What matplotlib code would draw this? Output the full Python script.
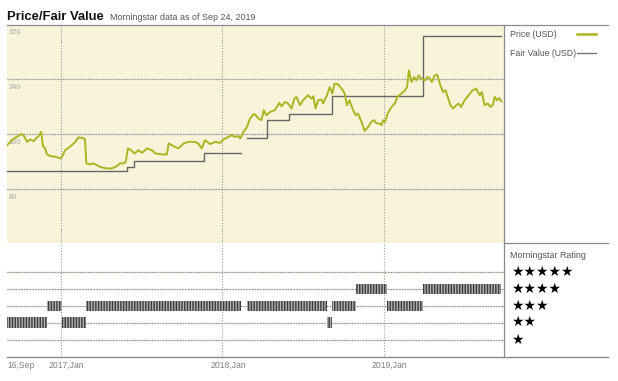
import numpy as np
import matplotlib
matplotlib.use("Agg")
import matplotlib.pyplot as plt
import matplotlib.dates as mdates
import matplotlib.transforms as mtransforms
from matplotlib.lines import Line2D

plt.rcParams['font.family'] = ['Liberation Sans', 'DejaVu Sans']

# price (USD)
price_dates = [
    '2016-09-02', '2016-09-09', '2016-09-17', '2016-09-24', '2016-10-04', '2016-10-09',
    '2016-10-17', '2016-10-24', '2016-11-01', '2016-11-06', '2016-11-12', '2016-11-18',
    '2016-11-22', '2016-11-27', '2016-12-01', '2016-12-09', '2016-12-20', '2016-12-31',
    '2017-01-04', '2017-01-11', '2017-01-22', '2017-02-03', '2017-02-10', '2017-02-19',
    '2017-02-25', '2017-02-28', '2017-03-09', '2017-03-16', '2017-03-27', '2017-04-04',
    '2017-04-15', '2017-04-27', '2017-05-08', '2017-05-15', '2017-05-23', '2017-05-28',
    '2017-06-02', '2017-06-09', '2017-06-17', '2017-06-26', '2017-07-04', '2017-07-15',
    '2017-07-26', '2017-08-03', '2017-08-18', '2017-08-29', '2017-09-02', '2017-09-13',
    '2017-09-24', '2017-10-06', '2017-10-17', '2017-11-01', '2017-11-08', '2017-11-16',
    '2017-11-23', '2017-12-05', '2017-12-16', '2017-12-27', '2018-01-04', '2018-01-15',
    '2018-01-23', '2018-01-30', '2018-02-07', '2018-02-11', '2018-02-18', '2018-02-26',
    '2018-03-05', '2018-03-13', '2018-03-16', '2018-03-24', '2018-03-31', '2018-04-05',
    '2018-04-11', '2018-04-19', '2018-04-30', '2018-05-10', '2018-05-15', '2018-05-23',
    '2018-05-30', '2018-06-07', '2018-06-13', '2018-06-18', '2018-06-26', '2018-07-03',
    '2018-07-14', '2018-07-22', '2018-07-26', '2018-07-31', '2018-08-06', '2018-08-14',
    '2018-08-17', '2018-08-26', '2018-09-01', '2018-09-07', '2018-09-12', '2018-09-20',
    '2018-09-28', '2018-10-05', '2018-10-10', '2018-10-16', '2018-10-24', '2018-10-30',
    '2018-11-04', '2018-11-12', '2018-11-19', '2018-11-27', '2018-12-04', '2018-12-10',
    '2018-12-16', '2018-12-23', '2018-12-27', '2018-12-31', '2019-01-04', '2019-01-10',
    '2019-01-19', '2019-01-26', '2019-02-01', '2019-02-10', '2019-02-18', '2019-02-23',
    '2019-02-27', '2019-03-05', '2019-03-11', '2019-03-16', '2019-03-21', '2019-03-27',
    '2019-04-04', '2019-04-10', '2019-04-15', '2019-04-20', '2019-04-26', '2019-05-02',
    '2019-05-08', '2019-05-15', '2019-05-21', '2019-05-26', '2019-06-01', '2019-06-07',
    '2019-06-14', '2019-06-19', '2019-06-25', '2019-07-03', '2019-07-12', '2019-07-21',
    '2019-07-29', '2019-08-06', '2019-08-11', '2019-08-17', '2019-08-24', '2019-08-31',
    '2019-09-05', '2019-09-09', '2019-09-14', '2019-09-19', '2019-09-24',
]
price_values = [
    144.0, 148.8, 153.7, 156.1, 160.0, 158.5,
    148.8, 152.3, 149.8, 153.7, 157.1, 163.3,
    142.5, 139.2, 130.5, 128.0, 127.0, 124.7,
    127.0, 136.7, 141.5, 148.8, 155.2, 154.6,
    152.7, 117.4, 115.9, 117.4, 113.5, 111.6,
    110.1, 110.1, 113.5, 117.4, 117.4, 119.7,
    139.2, 136.7, 131.9, 136.7, 132.8, 139.2,
    136.7, 131.9, 130.5, 130.5, 146.5, 142.5,
    139.2, 146.5, 148.8, 148.8, 146.5, 139.2,
    151.3, 145.5, 148.8, 147.3, 152.3, 156.1,
    158.5, 156.1, 157.1, 153.7, 163.3, 170.6,
    182.8, 189.1, 189.1, 182.8, 180.4, 194.9,
    187.6, 192.4, 194.9, 205.5, 200.7, 207.0,
    204.7, 197.4, 211.9, 214.3, 202.2, 209.5,
    216.7, 211.9, 215.3, 197.4, 209.5, 210.5,
    204.7, 216.7, 228.8, 219.2, 233.7, 232.7,
    226.5, 219.2, 202.2, 209.5, 194.9, 187.6,
    190.1, 177.9, 164.8, 170.6, 177.9, 180.4,
    175.6, 175.6, 173.1, 180.4, 177.9, 190.1,
    199.7, 204.7, 214.3, 219.2, 224.0, 228.8,
    253.1, 236.1, 243.3, 238.5, 245.8, 241.0,
    238.5, 243.3, 241.9, 236.1, 245.8, 246.8,
    233.7, 221.5, 224.0, 214.3, 202.2, 197.4,
    202.2, 204.7, 199.7, 209.5, 216.7, 224.0,
    226.5, 216.7, 221.5, 202.2, 204.7, 199.7,
    203.2, 214.3, 209.5, 212.8, 208.0,
]

# fair value (USD), step line, NaN = no estimate
fv_dates = ['2016-09-01', '2017-05-31', '2017-06-15', '2017-11-20', '2018-02-11', '2018-02-12',
            '2018-02-27', '2018-04-13', '2018-06-01', '2018-09-06', '2019-03-30', '2019-09-24']
fv_values = [106, 112, 121, 133, 133, np.nan,
             154, 181, 190, 216, 303, 303]

# Morningstar rating periods
rating_start = ['2016-09-01', '2016-12-01', '2017-01-05', '2017-02-28', '2018-02-27', '2018-08-25',
                '2018-09-07', '2018-10-30', '2019-01-09', '2019-03-30']
rating_end = ['2016-12-01', '2017-01-05', '2017-02-28', '2018-02-12', '2018-08-25', '2018-09-07',
              '2018-10-30', '2019-01-09', '2019-03-30', '2019-09-24']
rating_stars = [2, 3, 2, 3, 3, 2, 3, 4, 3, 4]

price_ticks = [0, 80, 160, 240, 320]
year_ticks = ['2017-01-01', '2018-01-01', '2019-01-01']
year_labels = ['2017,Jan', '2018,Jan', '2019,Jan']

W, H = 618, 381
fig = plt.figure(figsize=(W / 100, H / 100), dpi=100)


def fx(px):
    return px / W


def fy(py):
    return 1 - py / H


def hline(y, x0, x1, **kw):
    fig.add_artist(Line2D([fx(x0), fx(x1)], [fy(y), fy(y)], transform=fig.transFigure, **kw))


def vline(x, y0, y1, **kw):
    fig.add_artist(Line2D([fx(x), fx(x)], [fy(y0), fy(y1)], transform=fig.transFigure, **kw))


L, R = 6.7, 504
T1, B1 = 24.5, 242.5
B2 = 356.7
ax = fig.add_axes([fx(L), fy(B1), fx(R - L), (B1 - T1) / H])
ax2 = fig.add_axes([fx(L), fy(B2), fx(R - L), (B2 - B1) / H])

x_lo, x_hi = np.datetime64('2016-09-01'), np.datetime64('2019-09-30')
grid_solid = '#d4d4cc'
grid_dot = '#8a8a8a'

# price panel
ax.set_facecolor('#f8f4da')
ax.set_xlim(x_lo, x_hi)
ax.set_ylim(2, 320)
for v in price_ticks[1:]:
    ax.axhline(v, color=grid_solid, lw=0.9, zorder=1)
    ax.axhline(v, color=grid_dot, lw=0.8, ls=(0, (1, 1.5)), zorder=1)
for d in year_ticks:
    ax.axvline(np.datetime64(d), color='#999999', lw=0.8, ls=(0, (1, 1.5)), zorder=1)
ylab_tr = mtransforms.offset_copy(ax.get_yaxis_transform(), fig=fig, x=0, y=-8.5, units='dots')
for v in price_ticks:
    ax.text(0.003, v, str(v), transform=ylab_tr, fontsize=5.3, color='#aaaaaa',
            va='center', ha='left', zorder=2, clip_on=False)

fv_x = np.array(fv_dates, dtype='datetime64[D]')
ax.plot(fv_x, fv_values, drawstyle='steps-post', color='#666666', lw=1.0, zorder=3)
px = np.array(price_dates, dtype='datetime64[D]')
ax.plot(px, price_values, color='#abb521', lw=1.4, zorder=4, solid_joinstyle='round')
ax.set_xticks([])
ax.set_yticks([])
for s in ax.spines.values():
    s.set_visible(False)

# rating panel
ax2.set_xlim(x_lo, x_hi)
ax2.set_ylim(0, 6.75)
for r in range(1, 6):
    ax2.axhline(r, color=grid_solid, lw=0.9, zorder=1)
    ax2.axhline(r, color=grid_dot, lw=0.8, ls=(0, (1, 1.5)), zorder=1)
for d in year_ticks:
    ax2.axvline(np.datetime64(d), color='#999999', lw=0.8, ls=(0, (1, 1.5)), zorder=1)
plt.rcParams['hatch.linewidth'] = 1.0
for s0, s1, r in zip(rating_start, rating_end, rating_stars):
    a = mdates.date2num(np.datetime64(s0))
    b = mdates.date2num(np.datetime64(s1))
    ax2.broken_barh([(a, b - a)], (r - 0.32, 0.64), facecolors='#b0b0b0',
                    edgecolor='#3c3c3c', hatch='||||||', lw=0, zorder=3)
ax2.set_xticks([])
ax2.set_yticks([])
for s in ax2.spines.values():
    s.set_visible(False)

# frame lines
hline(T1, L, 608, color='#8c8c8c', lw=0.9)
hline(B1, R, 608, color='#8c8c8c', lw=0.9)
hline(B2, L, 608, color='#8c8c8c', lw=1.0)
vline(R, T1, B2, color='#8c8c8c', lw=0.9)

# title
fig.text(fx(7), fy(17.5), 'Price/Fair Value', fontsize=9.4, fontweight='bold', color='#111111',
         va='center', ha='left')
fig.text(fx(110), fy(17.5), 'Morningstar data as of Sep 24, 2019', fontsize=6.4, color='#555555',
         va='center', ha='left')

# legend
fig.text(fx(510), fy(34.5), 'Price (USD)', fontsize=6.3, color='#555555', va='center', ha='left')
fig.text(fx(510), fy(53), 'Fair Value (USD)', fontsize=6.3, color='#555555', va='center', ha='left')
hline(33.5, 577, 596, color='#abb521', lw=1.8)
hline(52.5, 577, 596, color='#777777', lw=1.0)

fig.text(fx(510), fy(256), 'Morningstar Rating', fontsize=6.4, color='#555555', va='center', ha='left')
star_y = [271.5, 288.7, 305.7, 322.3, 339.5]
for k, yy in enumerate(star_y):
    fig.text(fx(511), fy(yy), '\u2605' * (5 - k), fontsize=10, color='black',
             va='center', ha='left', family='DejaVu Sans')

# x labels
fig.text(fx(7), fy(365.5), '16,Sep', fontsize=6.2, color='#808080', va='center', ha='left')
for d, lab in zip(year_ticks, year_labels):
    xd = ax2.transData.transform((mdates.date2num(np.datetime64(d)), 0))[0]
    fig.text(fx(xd + 6), fy(365.5), lab, fontsize=6.2, color='#808080', va='center', ha='center')

fig.savefig('out.png', dpi=100)
